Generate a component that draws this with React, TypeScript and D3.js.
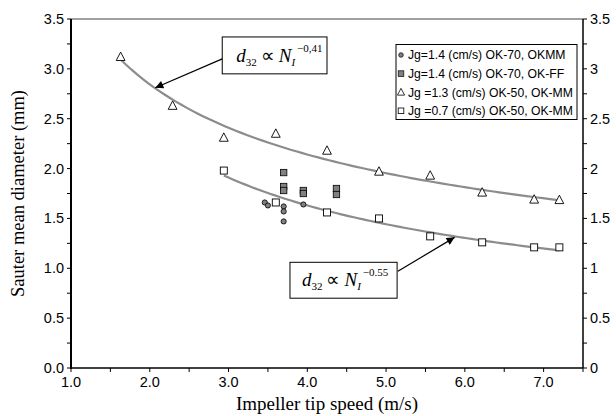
import React from 'react';
import * as d3 from 'd3';

// ---- data ----
const okmmX = [3.46, 3.5, 3.7, 3.7, 3.7, 3.95];
const okmmY = [1.66, 1.63, 1.62, 1.57, 1.47, 1.64];

const okffX = [3.7, 3.7, 3.7, 3.95, 3.95, 4.37, 4.37];
const okffY = [1.96, 1.82, 1.78, 1.78, 1.75, 1.8, 1.74];

const ok50HiX = [1.63, 2.29, 2.94, 3.6, 4.25, 4.91, 5.56, 6.22, 6.88, 7.2];
const ok50HiY = [3.12, 2.63, 2.31, 2.35, 2.18, 1.97, 1.93, 1.76, 1.69, 1.685];

const ok50LoX = [2.94, 3.6, 4.25, 4.91, 5.56, 6.22, 6.88, 7.2];
const ok50LoY = [1.98, 1.66, 1.56, 1.5, 1.32, 1.26, 1.21, 1.21];

const legendLabels = [
  'Jg=1.4 (cm/s) OK-70, OKMM',
  'Jg=1.4 (cm/s) OK-70, OK-FF',
  'Jg =1.3 (cm/s) OK-50, OK-MM',
  'Jg =0.7 (cm/s) OK-50, OK-MM',
];

// power-law fits d32 = coef * N^exp
const fitHi = { coef: 3.78, exp: -0.41, from: 1.63, to: 7.2, label: '\u22120,41' };
const fitLo = { coef: 3.495, exp: -0.55, from: 2.94, to: 7.2, label: '\u22120.55' };

const xTicks = [1, 2, 3, 4, 5, 6, 7];
const yTicksLeft = [0, 0.5, 1, 1.5, 2, 2.5, 3, 3.5];

const W = 616, H = 416;
const M = { left: 71, right: 583, top: 19, bottom: 368 };

export default function App() {
  const x = d3.scaleLinear().domain([1, 7.5]).range([M.left, M.right]);
  const y = d3.scaleLinear().domain([0, 3.5]).range([M.bottom, M.top]);

  const fitPath = (f: typeof fitHi) => {
    const xs = d3.range(f.from, f.to + 1e-9, (f.to - f.from) / 80);
    return d3.line<number>().x((v) => x(v)).y((v) => y(f.coef * Math.pow(v, f.exp)))(xs) || '';
  };

  const minorY = d3.range(0, 3.5001, 0.25);
  const minorX = d3.range(1, 7.5001, 0.5);

  const tri = (cx: number, cy: number, s: number) =>
    `M${cx},${cy - s * 0.6}L${cx + s * 0.55},${cy + s * 0.45}L${cx - s * 0.55},${cy + s * 0.45}Z`;

  const serif = '"Liberation Serif", "Times New Roman", serif';
  const sans = '"Liberation Sans", Arial, sans-serif';

  // annotation geometry in data coords
  const box1 = { x0: 2.92, x1: 4.25, y0: 3.32, y1: 2.95 };
  const arrow1 = { fx: 2.92, fy: 3.1, tx: 2.07, ty: 2.81 };
  const box2 = { x0: 3.78, x1: 5.14, y0: 1.06, y1: 0.7 };
  const arrow2 = { fx: 5.15, fy: 0.97, tx: 5.87, ty: 1.31 };

  const Formula = ({ bx, by, sup }: { bx: number; by: number; sup: string }) => (
    <text x={bx} y={by} fontFamily={serif} fontSize={19} fill="#000">
      <tspan fontStyle="italic">d</tspan>
      <tspan fontSize={11} dy={4}>32</tspan>
      <tspan dy={-4} dx={4}>{'\u221D'}</tspan>
      <tspan fontStyle="italic" dx={4}>N</tspan>
      <tspan fontStyle="italic" fontSize={11} dy={4}>I</tspan>
      <tspan fontSize={11} dy={-14} dx={2}>{sup}</tspan>
    </text>
  );

  return (
    <svg width={W} height={H} style={{ position: 'absolute', left: 0, top: 0, background: '#fff' }}>
      <defs>
        <marker id="ah" viewBox="0 0 10 10" refX="10" refY="5" markerWidth="12" markerHeight="8" orient="auto" markerUnits="userSpaceOnUse">
          <path d="M0,0L10,5L0,10Z" fill="#000" />
        </marker>
      </defs>
      <rect x={0} y={0} width={W} height={H} fill="#fff" />

      {/* top border */}
      <line x1={M.left} x2={M.right} y1={M.top} y2={M.top} stroke="#808080" strokeWidth={1.5} />

      {/* fit curves */}
      <path d={fitPath(fitHi)} fill="none" stroke="#8c8c8c" strokeWidth={2.2} />
      <path d={fitPath(fitLo)} fill="none" stroke="#8c8c8c" strokeWidth={2.2} />

      {/* axes */}
      <line x1={M.left} x2={M.left} y1={M.top} y2={M.bottom + 1} stroke="#000" strokeWidth={2} />
      <line x1={M.left - 1} x2={M.right} y1={M.bottom} y2={M.bottom} stroke="#000" strokeWidth={1.5} />
      <line x1={M.right} x2={M.right} y1={M.top} y2={M.bottom} stroke="#000" strokeWidth={1.5} />

      {minorY.map((v) => (
        <g key={'ly' + v}>
          <line x1={M.left - 4} x2={M.left} y1={y(v)} y2={y(v)} stroke="#000" strokeWidth={1} />
          <line x1={M.right} x2={M.right + 4} y1={y(v)} y2={y(v)} stroke="#000" strokeWidth={1} />
        </g>
      ))}
      {minorX.map((v) => (
        <line key={'lx' + v} x1={x(v)} x2={x(v)} y1={M.bottom} y2={M.bottom + 4} stroke="#000" strokeWidth={1} />
      ))}

      {yTicksLeft.map((v) => (
        <text key={'yl' + v} x={M.left - 7} y={y(v) + 5} textAnchor="end" fontFamily={sans} fontSize={14.5} fill="#000">
          {v.toFixed(1)}
        </text>
      ))}
      {yTicksLeft.map((v) => (
        <text key={'yr' + v} x={M.right + 7} y={y(v) + 5} textAnchor="start" fontFamily={sans} fontSize={14.5} fill="#000">
          {String(v)}
        </text>
      ))}
      {xTicks.map((v) => (
        <text key={'xt' + v} x={x(v)} y={M.bottom + 19} textAnchor="middle" fontFamily={sans} fontSize={14.5} fill="#000">
          {v.toFixed(1)}
        </text>
      ))}

      <text x={(M.left + M.right) / 2} y={410} textAnchor="middle" fontFamily={serif} fontSize={19} fill="#000">
        Impeller tip speed (m/s)
      </text>
      <text transform={`translate(24,${(M.top + M.bottom) / 2}) rotate(-90)`} textAnchor="middle" fontFamily={serif} fontSize={18.5} fill="#000">
        Sauter mean diameter (mm)
      </text>

      {/* data points */}
      {ok50HiX.map((v, i) => (
        <path key={'t' + i} d={tri(x(v), y(ok50HiY[i]), 8)} fill="#fff" stroke="#000" strokeWidth={0.9} />
      ))}
      {ok50LoX.map((v, i) => (
        <rect key={'s' + i} x={x(v) - 3.5} y={y(ok50LoY[i]) - 3.5} width={7} height={7} fill="#fff" stroke="#000" strokeWidth={0.9} />
      ))}
      {okffX.map((v, i) => (
        <rect key={'g' + i} x={x(v) - 3.2} y={y(okffY[i]) - 3.2} width={6.4} height={6.4} fill="#808080" stroke="#000" strokeWidth={0.8} />
      ))}
      {okmmX.map((v, i) => (
        <circle key={'c' + i} cx={x(v)} cy={y(okmmY[i])} r={2.6} fill="#808080" stroke="#000" strokeWidth={0.8} />
      ))}

      {/* legend */}
      <rect x={396} y={44.5} width={181} height={75} fill="#fff" stroke="#000" strokeWidth={1} />
      {legendLabels.map((t, i) => {
        const cy = 55 + i * 18.6;
        const mx = 401;
        let mark;
        if (i === 0) mark = <circle cx={mx} cy={cy} r={2.3} fill="#808080" stroke="#000" strokeWidth={0.7} />;
        else if (i === 1) mark = <rect x={mx - 2.8} y={cy - 2.8} width={5.6} height={5.6} fill="#808080" stroke="#000" strokeWidth={0.7} />;
        else if (i === 2) mark = <path d={tri(mx, cy, 6.5)} fill="#fff" stroke="#000" strokeWidth={0.8} />;
        else mark = <rect x={mx - 2.8} y={cy - 2.8} width={5.6} height={5.6} fill="#fff" stroke="#000" strokeWidth={0.8} />;
        return (
          <g key={'lg' + i}>
            {mark}
            <text x={408} y={cy + 4.3} fontFamily={sans} fontSize={12.2} fill="#000">{t}</text>
          </g>
        );
      })}

      {/* annotations */}
      <rect x={x(box1.x0)} y={y(box1.y0)} width={x(box1.x1) - x(box1.x0)} height={y(box1.y1) - y(box1.y0)} fill="#fff" stroke="#000" strokeWidth={1} />
      <Formula bx={x(box1.x0) + 14} by={y(box1.y0) + 25} sup={fitHi.label} />
      <line x1={x(arrow1.fx)} y1={y(arrow1.fy)} x2={x(arrow1.tx)} y2={y(arrow1.ty)} stroke="#000" strokeWidth={1.2} markerEnd="url(#ah)" />

      <rect x={x(box2.x0)} y={y(box2.y0)} width={x(box2.x1) - x(box2.x0)} height={y(box2.y1) - y(box2.y0)} fill="#fff" stroke="#000" strokeWidth={1} />
      <Formula bx={x(box2.x0) + 12} by={y(box2.y0) + 24} sup={fitLo.label} />
      <line x1={x(arrow2.fx)} y1={y(arrow2.fy)} x2={x(arrow2.tx)} y2={y(arrow2.ty)} stroke="#000" strokeWidth={1.2} markerEnd="url(#ah)" />
    </svg>
  );
}
